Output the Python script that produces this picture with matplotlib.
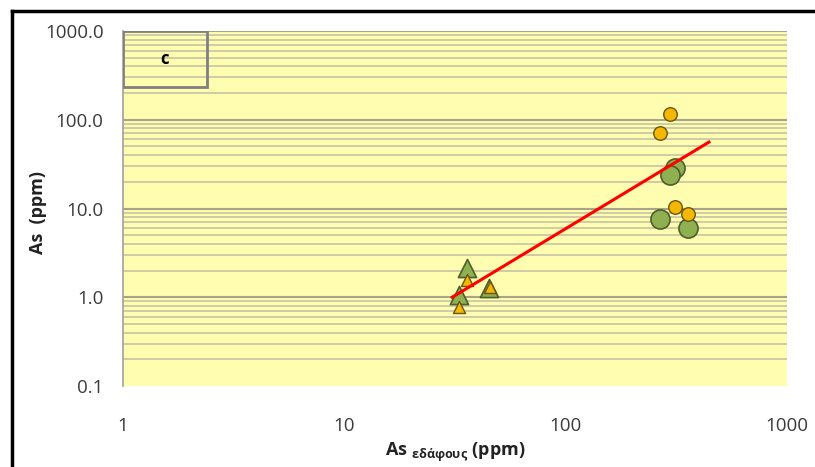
import matplotlib
matplotlib.use("Agg")
import matplotlib.pyplot as plt
from matplotlib.patches import Rectangle
from matplotlib.lines import Line2D
import numpy as np

plt.rcParams['font.family'] = ['Open Sans', 'DejaVu Sans']

# Soil As (x) vs plant As (y), triangles and circles for two site groups
tri_green_x = [35.7, 33.0, 45.0]
tri_green_y = [2.14, 1.06, 1.27]
tri_orange_x = [35.7, 33.0, 45.5]
tri_orange_y = [1.56, 0.78, 1.30]

circ_green_x = [312, 296, 267, 356]
circ_green_y = [28.4, 23.8, 7.6, 6.0]
circ_orange_x = [296, 267, 312, 356]
circ_orange_y = [115, 70.3, 10.5, 8.6]

trend_x = [30.7, 444]
trend_y = [1.0, 56]

x_ticks = [1, 10, 100, 1000]
x_tick_labels = ['1', '10', '100', '1000']
y_ticks = [0.1, 1, 10, 100, 1000]
y_tick_labels = ['0.1', '1.0', '10.0', '100.0', '1000.0']

W, H = 815, 467
fig = plt.figure(figsize=(W / 100, H / 100), dpi=100)
fig.patch.set_facecolor('white')

left, right, top, bottom = 123, 787, 31, 386
ax = fig.add_axes([left / W, 1 - bottom / H, (right - left) / W, (bottom - top) / H])
ax.set_facecolor('#FFFDB0')
ax.set_xscale('log')
ax.set_yscale('log')
ax.set_xlim(1, 1000)
ax.set_ylim(0.1, 1000)

# horizontal grid: decades and 2..9 subdivisions
for d in range(-1, 3):
    for k in range(2, 10):
        ax.axhline(k * 10.0 ** d, color='#CCC8A6', lw=1.3, zorder=1)
for v in y_ticks[1:]:
    ax.axhline(v, color='#A8A48A', lw=1.5, zorder=1)

for s in ['top', 'right', 'bottom']:
    ax.spines[s].set_visible(False)
ax.spines['left'].set_color('#A0A0A0')
ax.spines['left'].set_linewidth(1.2)

ax.set_xticks(x_ticks)
ax.set_xticklabels(x_tick_labels)
ax.set_yticks(y_ticks)
ax.set_yticklabels(y_tick_labels)
ax.xaxis.set_minor_locator(matplotlib.ticker.NullLocator())
ax.yaxis.set_minor_locator(matplotlib.ticker.NullLocator())
ax.tick_params(length=0, labelsize=13.5, colors='#3A3A3A')
ax.tick_params(axis='x', pad=22)
ax.tick_params(axis='y', pad=14)

green_face, green_edge = '#8FB050', '#4E5E2C'
orange_face, orange_edge = '#F5B800', '#6B5418'

ax.scatter(tri_green_x, tri_green_y, marker='^', s=170, c=green_face,
           edgecolors=green_edge, linewidths=1.2, zorder=4)
ax.scatter(tri_orange_x, tri_orange_y, marker='^', s=75, c=orange_face,
           edgecolors=orange_edge, linewidths=1.0, zorder=5)
ax.scatter(circ_green_x, circ_green_y, marker='o', s=190, c=green_face,
           edgecolors=green_edge, linewidths=1.2, zorder=4)
ax.scatter(circ_orange_x, circ_orange_y, marker='o', s=95, c=orange_face,
           edgecolors=orange_edge, linewidths=1.0, zorder=5)

ax.plot(trend_x, trend_y, color='#FF0000', lw=2.2, zorder=6)

# panel tag box
ax.add_patch(Rectangle((0, 0.843), 0.126, 0.157, transform=ax.transAxes,
                       facecolor='none', edgecolor='#808080', lw=2, zorder=6))
ax.text(0.063, 0.92, 'c', transform=ax.transAxes, ha='center', va='center',
        fontsize=12, fontweight='bold', color='black', zorder=7)

fig.text(38 / W, 1 - 212 / H, 'As  (ppm)', rotation=90, ha='center', va='center',
         fontsize=13, fontweight='bold', color='#222222')
fig.text(455 / W, 1 - 452 / H, r'As $_{\mathregular{εδάφους}}$ (ppm)', ha='center',
         va='center', fontsize=13, fontweight='bold', color='#222222')

# outer frame
fig.add_artist(Line2D([12 / W, 12 / W], [0, 1 - 11 / H], color='black', lw=2.5,
                      transform=fig.transFigure))
fig.add_artist(Line2D([12 / W, 1], [1 - 11 / H, 1 - 11 / H], color='black', lw=2.5,
                      transform=fig.transFigure))

fig.savefig('out.png', dpi=100)
